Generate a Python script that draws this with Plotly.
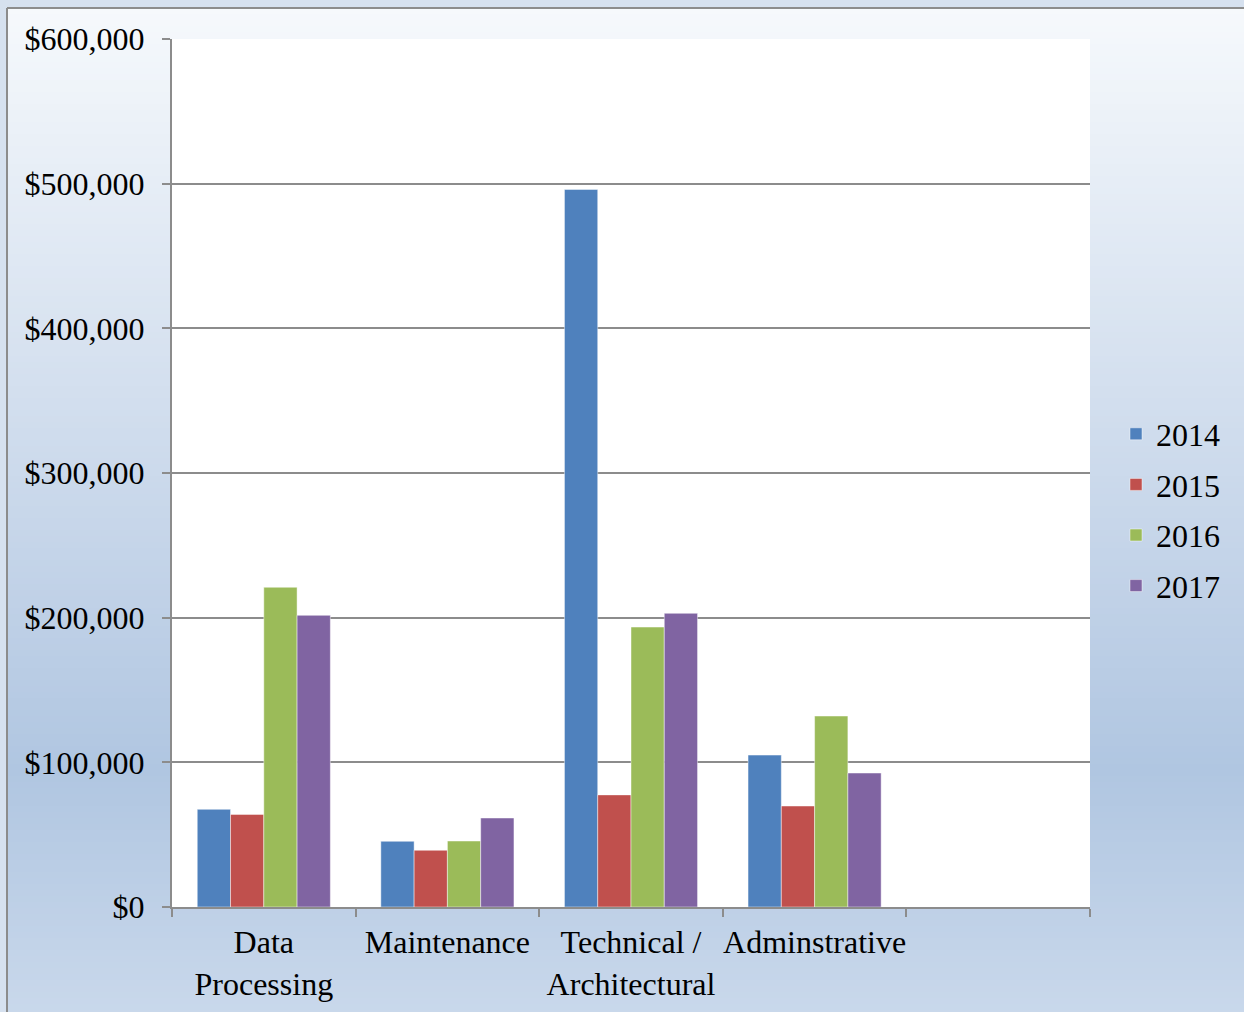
import plotly.graph_objects as go

categories = ["Data<br>Processing", "Maintenance", "Technical /<br>Architectural", "Adminstrative"]
years = ["2014", "2015", "2016", "2017"]
values_2014 = [67500, 45400, 496000, 105000]
values_2015 = [64000, 39200, 77500, 69800]
values_2016 = [221000, 45600, 193500, 132000]
values_2017 = [201600, 61500, 203000, 92600]
series = [values_2014, values_2015, values_2016, values_2017]
colors = ["#4F81BD", "#C0504D", "#9BBB59", "#8064A2"]
y_ticks = [0, 100000, 200000, 300000, 400000, 500000, 600000]
y_tick_labels = ["$0", "$100,000", "$200,000", "$300,000", "$400,000", "$500,000", "$600,000"]

W, H = 1244, 1012
L, R, T, B = 172, 154, 39, 105
pw, ph = W - L - R, H - T - B

def px_x(x):
    return (x - L) / pw

def px_y(y):
    return (H - B - y) / ph

FONT = "Liberation Serif"
FS = 32
xs = list(range(len(categories)))

fig = go.Figure()
for yr, vals, c in zip(years, series, colors):
    fig.add_trace(go.Bar(
        name=yr, x=xs, y=vals, marker=dict(color=c, line=dict(color="rgba(255,255,255,0.45)", width=1)),
        legendgroup=yr,
    ))

# gradient background stripes
def lerp(c1, c2, t):
    return tuple(round(a + (b - a) * t) for a, b in zip(c1, c2))

stops = [(8, (246, 249, 252)), (600, (192, 209, 231)), (770, (176, 198, 225)), (1012, (201, 216, 235))]
shapes = []
step = 6
y = 8
while y < 1012:
    ymid = y + step / 2
    for (y0, c0), (y1, c1) in zip(stops[:-1], stops[1:]):
        if y0 <= ymid <= y1:
            col = lerp(c0, c1, (ymid - y0) / (y1 - y0))
            break
    else:
        col = stops[-1][1]
    shapes.append(dict(type="rect", xref="paper", yref="paper", layer="below",
                       x0=px_x(7), x1=px_x(1250), y0=px_y(min(y + step + 1, 1015)), y1=px_y(y),
                       fillcolor="rgb(%d,%d,%d)" % col, line=dict(width=0)))
    y += step
# plot area white
shapes.append(dict(type="rect", xref="paper", yref="paper", layer="below",
                   x0=0, x1=1, y0=0, y1=1, fillcolor="white", line=dict(width=0)))
# outer border
shapes.append(dict(type="line", xref="paper", yref="paper", x0=px_x(7), x1=px_x(7),
                   y0=px_y(8), y1=px_y(1015), line=dict(color="#8C8C8C", width=2)))
shapes.append(dict(type="line", xref="paper", yref="paper", x0=px_x(7), x1=px_x(1250),
                   y0=px_y(8), y1=px_y(8), line=dict(color="#8C8C8C", width=2)))

fig.update_layout(
    width=W, height=H,
    margin=dict(l=L, r=R, t=T, b=B, autoexpand=False),
    paper_bgcolor="#D6E1EF",
    plot_bgcolor="white",
    barmode="group", bargap=0.275, bargroupgap=0,
    font=dict(family=FONT, size=FS, color="black"),
    shapes=shapes,
    showlegend=True,
    legend=dict(x=px_x(1116), y=px_y(510), xanchor="left", yanchor="middle",
                bgcolor="rgba(0,0,0,0)", font=dict(family=FONT, size=FS, color="black"),
                tracegroupgap=6, itemwidth=30),
    xaxis=dict(
        range=[-0.5, len(categories) + 0.5],
        tickvals=xs, ticktext=categories, automargin=False,
        ticks="", showgrid=False, zeroline=False,
        showline=True, linecolor="#8C8C8C", linewidth=2,
        minor=dict(tick0=-0.5, dtick=1, ticks="outside", ticklen=8, tickwidth=2, tickcolor="#8C8C8C", showgrid=False),
        tickfont=dict(family=FONT, size=FS, color="black"),
        ticklabelstandoff=6,
    ),
    yaxis=dict(
        range=[0, 600000], tickvals=y_ticks, ticktext=y_tick_labels, automargin=False,
        ticks="outside", ticklen=8, tickwidth=2, tickcolor="#8C8C8C",
        showgrid=True, gridcolor="#8C8C8C", gridwidth=1.5,
        showline=True, linecolor="#8C8C8C", linewidth=2, zeroline=False,
        tickfont=dict(family=FONT, size=FS, color="black"),
        ticklabelstandoff=11,
    ),
)

fig.write_html("out.html")
